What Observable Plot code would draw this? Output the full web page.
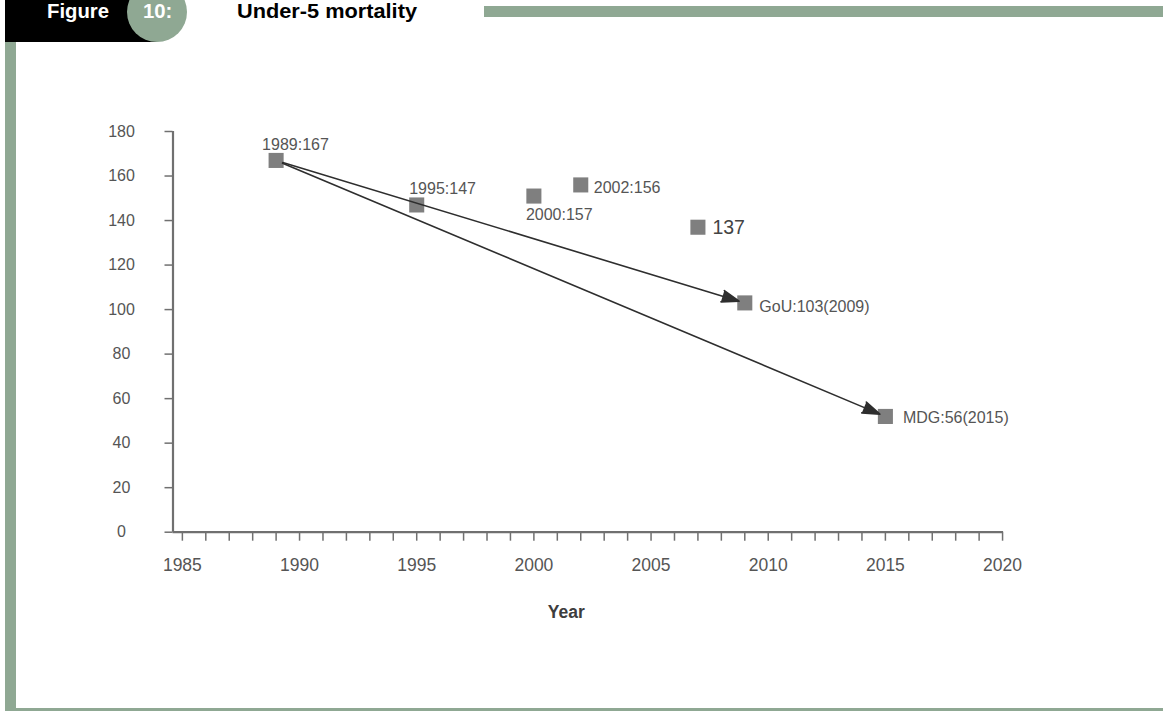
<!DOCTYPE html>
<html><head><meta charset="utf-8">
<script src="https://cdn.jsdelivr.net/npm/d3@7"></script>
<script src="https://cdn.jsdelivr.net/npm/@observablehq/plot@0.6"></script>
<style>
html,body{margin:0;padding:0;background:#fff;width:1163px;height:713px;overflow:hidden;}
#chart{position:absolute;left:0;top:0;}
#deco{position:absolute;left:0;top:0;font-family:"Liberation Sans",Arial,sans-serif;}
</style></head><body>
<div id="chart"></div>
<svg id="deco" width="1163" height="713">
  <rect x="5" y="0" width="152" height="42" fill="#000"/>
  <circle cx="157" cy="12" r="30" fill="#8fa893"/>
  <rect x="5" y="42" width="11" height="669" fill="#8fa893"/>
  <rect x="5" y="708" width="1158" height="3" fill="#8fa893"/>
  <rect x="484" y="6" width="679" height="11" fill="#8fa893"/>
  <text id="figLabel" x="47" y="18.3" fill="#fff" font-weight="bold" font-size="20.3"></text>
  <text id="figNum" x="143" y="18.3" fill="#fff" font-weight="bold" font-size="20.3"></text>
  <text id="figTitle" x="237" y="18.3" fill="#000" font-weight="bold" font-size="20.3" textLength="180" lengthAdjust="spacingAndGlyphs"></text>
</svg>
<script>
// ---- data ----
const figureLabel = "Figure";
const figureNumber = "10:";
const chartTitle = "Under-5 mortality";
const xTitle = "Year";
const years = [1989, 1995, 2000, 2002, 2007, 2009, 2015];
const values = [167, 147, 151, 156, 137, 103, 52];
const pointLabels = ["1989:167", "1995:147", "2000:157", "2002:156", "137", "GoU:103(2009)", "MDG:56(2015)"];
const arrowFrom = [0, 0];
const arrowTo = [5, 6];
const xTickLabels = [1985, 1990, 1995, 2000, 2005, 2010, 2015, 2020];
const xMinorTicks = d3.range(1985, 2021);
const yTicks = [0, 20, 40, 60, 80, 100, 120, 140, 160, 180];

document.getElementById("figLabel").textContent = figureLabel;
document.getElementById("figNum").textContent = figureNumber;
document.getElementById("figTitle").textContent = chartTitle;

const points = years.map((year, i) => ({year, value: values[i], label: pointLabels[i]}));
const arrows = arrowFrom.map((f, k) => ({x1: years[f], y1: values[f], x2: years[arrowTo[k]], y2: values[arrowTo[k]]}));

const xDomain = [1984.6, 2020.04];
const font = "'Liberation Sans', Arial, sans-serif";
const axisGray = "#707070";
const textGray = "#555";

const lbl = (i, o) => Plot.text([points[i]], {
  x: "year", y: "value", text: "label", textAnchor: "start",
  fill: textGray, fontSize: 16, ...o
});

const chart = Plot.plot({
  width: 1163,
  height: 650,
  marginTop: 131,
  marginBottom: 118.3,
  marginLeft: 172.5,
  marginRight: 160,
  style: {background: "transparent", fontFamily: font, overflow: "visible"},
  x: {domain: xDomain},
  y: {domain: [0, 180]},
  marks: [
    Plot.axisX({ticks: xMinorTicks, tickSize: 9, tickFormat: () => "", stroke: axisGray, strokeWidth: 1.5, label: null}),
    Plot.axisX({ticks: xTickLabels, tickSize: 0, tickPadding: 26, tickFormat: d => String(d), fill: textGray, fontSize: 17.5, label: null}),
    Plot.axisY({ticks: yTicks, tickSize: 8, tickFormat: () => "", stroke: axisGray, strokeWidth: 1.5, label: null}),
    Plot.axisY({ticks: yTicks, tickSize: 0, tickPadding: 51.5, textAnchor: "middle", fill: textGray, fontSize: 16, label: null}),
    Plot.ruleX([xDomain[0]], {stroke: axisGray, strokeWidth: 2.2}),
    Plot.ruleY([0], {stroke: axisGray, strokeWidth: 2.2}),
    Plot.dot(points, {x: "year", y: "value", symbol: "square", r: 8.5, fill: "#7f7f7f"}),
    Plot.arrow(arrows, {x1: "x1", y1: "y1", x2: "x2", y2: "y2", stroke: "#2e2e2e", fill: "#2e2e2e",
      strokeWidth: 1.6, headLength: 17, headAngle: 38, insetStart: 7, insetEnd: 6}),
    lbl(0, {dx: -14, dy: -15.5}),
    lbl(1, {dx: -7.5, dy: -16.5}),
    lbl(2, {dx: -8, dy: 19}),
    lbl(3, {dx: 13, dy: 2.5}),
    lbl(4, {dx: 14.5, dy: 1, fontSize: 19.5, fill: "#444"}),
    lbl(5, {dx: 14.5, dy: 3.5}),
    lbl(6, {dx: 17.5, dy: 1.5}),
    Plot.text([xTitle], {frameAnchor: "bottom", text: d => d, dx: -22, dy: 86, fontWeight: "bold", fontSize: 17.5, fill: "#3d3d3d"})
  ]
});
document.getElementById("chart").appendChild(chart);
</script>
</body></html>
